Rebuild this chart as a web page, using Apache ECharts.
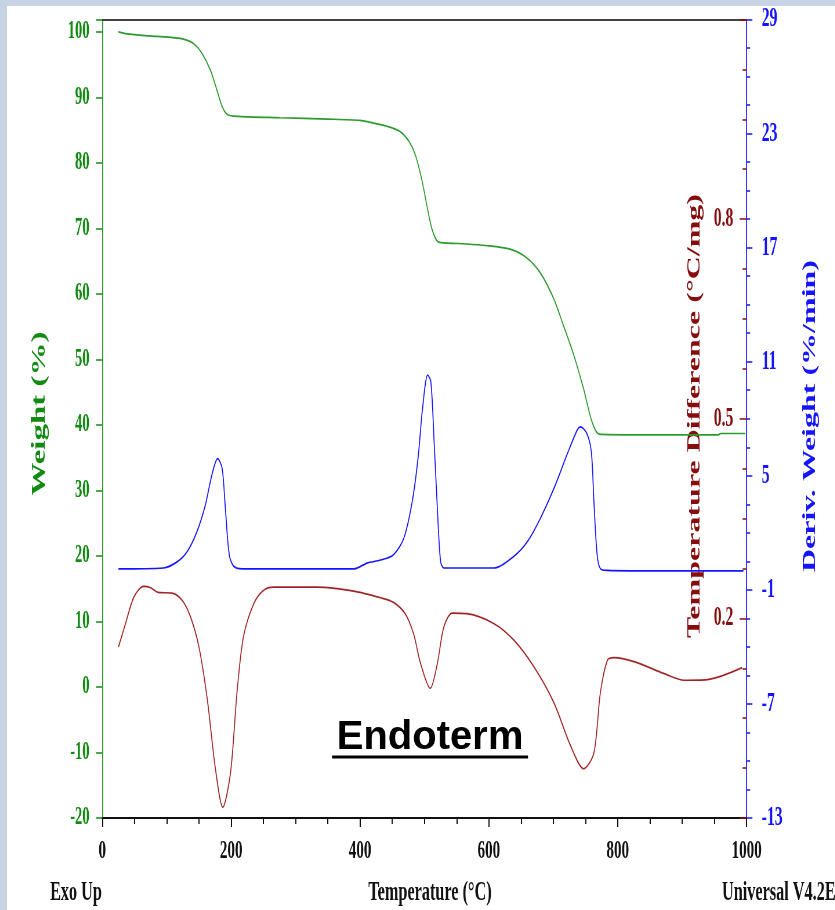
<!DOCTYPE html>
<html>
<head>
<meta charset="utf-8">
<title>TGA / DTA</title>
<script src="https://cdn.jsdelivr.net/npm/echarts@6/dist/echarts.min.js"></script>
<style>
    html, body { margin: 0; padding: 0; overflow: hidden; background: #c6d3e3; width: 835px; height: 910px; }
    #wrap { position: absolute; left: 7px; top: 6px; width: 828px; height: 904px; overflow: hidden; background: #fff; }
    /* the original print is squeezed sideways, so the chart is drawn wide and scaled back */
    #chart { position: absolute; left: 0; top: 0; width: 1428px; height: 904px; transform: scaleX(0.58); transform-origin: 0 0; }
</style>
</head>
<body>
<div id="wrap"><div id="chart"></div></div>
<script>

// weight (%) vs temperature
var weightT = [25, 38, 72, 103, 126, 142, 155, 168, 178, 186, 194, 212, 276, 350, 400, 416, 442, 462, 476, 486, 496, 504, 512, 522, 553, 595, 634, 659, 680, 701, 716, 732, 747, 760, 771, 820, 956, 960, 998];
var weight  = [100, 99.7, 99.4, 99.2, 98.9, 98.2, 96.7, 94.1, 91.1, 88.6, 87.4, 87.1, 86.9, 86.7, 86.5, 86.2, 85.6, 84.8, 83.3, 81.2, 77.4, 73.4, 69.8, 67.9, 67.7, 67.4, 66.8, 65.5, 63.2, 59.2, 55.1, 50.6, 45.5, 40.5, 38.6, 38.5, 38.5, 38.7, 38.7];

// deriv. weight (%/min)
var derivT = [25, 95, 116, 132, 147, 160, 170, 179, 186, 191, 197, 204, 217, 390, 411, 432, 452, 468, 481, 490, 497, 505, 510, 515, 520, 525, 530, 608, 639, 660, 680, 701, 721, 737, 742, 752, 759, 763, 768, 773, 784, 820, 995];
var deriv  = [0.1, 0.15, 0.47, 1.03, 2.07, 3.47, 5.04, 5.9, 5.39, 3.29, 0.85, 0.24, 0.1, 0.1, 0.41, 0.57, 0.85, 1.72, 3.64, 5.91, 8.53, 10.3, 9.93, 6.79, 3.29, 0.5, 0.15, 0.15, 0.77, 1.55, 2.77, 4.34, 6.09, 7.4, 7.57, 7.22, 6.26, 3.64, 0.85, 0.12, 0.02, 0.0, 0.0];

// temperature difference (°C/mg)
var tdT = [25, 36, 49, 64, 75, 87, 108, 124, 137, 150, 163, 175, 187, 199, 209, 219, 235, 250, 266, 333, 390, 432, 452, 470, 483, 494, 509, 520, 530, 543, 566, 608, 639, 670, 701, 727, 747, 763, 773, 784, 794, 825, 872, 903, 939, 993];
var td  = [0.157, 0.192, 0.232, 0.248, 0.246, 0.239, 0.238, 0.227, 0.202, 0.157, 0.078, -0.022, -0.084, -0.032, 0.088, 0.172, 0.222, 0.242, 0.247, 0.247, 0.241, 0.231, 0.224, 0.207, 0.177, 0.132, 0.095, 0.132, 0.187, 0.208, 0.207, 0.192, 0.167, 0.127, 0.073, 0.008, -0.026, -0.002, 0.088, 0.137, 0.141, 0.135, 0.117, 0.107, 0.108, 0.126];

// tick labels shown on the temperature difference axis
var tdLabels = ['0.2', '0.5', '0.8'];

function pairs(xs, ys) {
    return xs.map(function (x, i) { return [x, ys[i]]; });
}

var SQ = 0.58;              // horizontal squeeze of the page
function X(px) { return (px - 7) / SQ; }
function Y(py) { return py - 6; }

var SERIF = '"Liberation Serif", "Times New Roman", serif';
var GREEN = '#128a12';
var GREEN_LINE = '#2c9a2c';
var BLUE = '#1414ff';
var RED = '#860d0d';
var RED_LINE = '#a02424';

var chart = echarts.init(document.getElementById('chart'));

var option = {
    animation: false,
    backgroundColor: '#fff',
    grid: {
        left: X(102.3),
        top: Y(15.7),
        width: (746.6 - 102.3) / SQ,
        height: 818 - 15.7
    },
    xAxis: [
        {
            type: 'value',
            position: 'bottom',
            min: 0,
            max: 1000,
            interval: 200,
            axisLine: { show: true, onZero: false, lineStyle: { color: '#111', width: 2 } },
            axisTick: { show: true, length: 9, lineStyle: { color: '#111', width: 2 } },
            minorTick: { show: true, splitNumber: 4, length: 6, lineStyle: { color: '#111', width: 2 } },
            axisLabel: {
                color: '#111', fontFamily: SERIF, fontWeight: 'bold', fontSize: 26, margin: 20,
                formatter: function (v) { return String(v); }
            },
            splitLine: { show: false }
        },
        {
            // top frame line
            type: 'value',
            position: 'top',
            min: 0,
            max: 1000,
            axisLine: { show: true, onZero: false, lineStyle: { color: '#444', width: 2 } },
            axisTick: { show: false },
            axisLabel: { show: false },
            splitLine: { show: false }
        }
    ],
    yAxis: [
        {
            type: 'value',
            position: 'left',
            min: -20,
            max: 101.9,
            interval: 10,
            axisLine: { show: true, onZero: false, lineStyle: { color: GREEN, width: 1.7 } },
            axisTick: { show: true, length: 11, lineStyle: { color: GREEN, width: 1.5 } },
            axisLabel: {
                color: GREEN, fontFamily: SERIF, fontWeight: 'bold', fontSize: 25, margin: 22,
                padding: [8, 0, 0, 0],
                formatter: function (v) { return v % 10 === 0 ? String(v) : ''; }
            },
            splitLine: { show: false }
        },
        {
            type: 'value',
            position: 'right',
            min: -13,
            max: 29,
            interval: 6,
            axisLine: { show: true, onZero: false, lineStyle: { color: BLUE, width: 1.7 } },
            axisTick: { show: true, length: 10, lineStyle: { color: BLUE, width: 1.5 } },
            minorTick: { show: true, splitNumber: 4, length: 6, lineStyle: { color: BLUE, width: 1.5 } },
            axisLabel: { color: BLUE, fontFamily: SERIF, fontWeight: 'bold', fontSize: 27, margin: 26 },
            splitLine: { show: false }
        },
        {
            type: 'value',
            position: 'right',
            offset: 0,
            min: -0.1,
            max: 1.1,
            interval: 0.3,
            axisLine: { show: false, onZero: false },
            axisTick: { show: true, inside: true, length: 12, lineStyle: { color: RED, width: 1.5 } },
            minorTick: { show: true, splitNumber: 4, length: 7, lineStyle: { color: RED, width: 1.5 } },
            axisLabel: {
                inside: true, color: RED, fontFamily: SERIF, fontWeight: 'bold', fontSize: 27, margin: 23,
                formatter: function (v) {
                    var s = v.toFixed(1);
                    return tdLabels.indexOf(s) >= 0 ? s : '';
                }
            },
            splitLine: { show: false }
        }
    ],
    series: [
        {
            name: 'Weight',
            type: 'line',
            xAxisIndex: 0,
            yAxisIndex: 0,
            showSymbol: false,
            smooth: 0.3,
            lineStyle: { color: GREEN_LINE, width: 1.7 },
            data: pairs(weightT, weight)
        },
        {
            name: 'Deriv. Weight',
            type: 'line',
            xAxisIndex: 0,
            yAxisIndex: 1,
            showSymbol: false,
            smooth: 0.3,
            lineStyle: { color: BLUE, width: 1.7 },
            data: pairs(derivT, deriv)
        },
        {
            name: 'Temperature Difference',
            type: 'line',
            xAxisIndex: 0,
            yAxisIndex: 2,
            showSymbol: false,
            smooth: 0.3,
            lineStyle: { color: RED_LINE, width: 1.7 },
            data: pairs(tdT, td)
        }
    ],
    graphic: [
        {
            type: 'text', x: X(40), y: Y(413.5), rotation: Math.PI / 2,
            style: { text: 'Weight (%)', fill: GREEN, fontFamily: SERIF, fontWeight: 'bold', fontSize: 33, align: 'center', verticalAlign: 'middle' }
        },
        {
            type: 'text', x: X(695), y: Y(416), rotation: Math.PI / 2,
            style: { text: 'Temperature Difference (°C/mg)', fill: RED, fontFamily: SERIF, fontWeight: 'bold', fontSize: 32, align: 'center', verticalAlign: 'middle' }
        },
        {
            type: 'text', x: X(810), y: Y(416), rotation: Math.PI / 2,
            style: { text: 'Deriv. Weight (%/min)', fill: BLUE, fontFamily: SERIF, fontWeight: 'bold', fontSize: 32, align: 'center', verticalAlign: 'middle' }
        },
        {
            type: 'text', x: X(50), y: Y(892.5),
            style: { text: 'Exo Up', fill: '#111', fontFamily: SERIF, fontWeight: 'bold', fontSize: 28, align: 'left', verticalAlign: 'middle' }
        },
        {
            type: 'text', x: X(430), y: Y(892.5),
            style: { text: 'Temperature (°C)', fill: '#111', fontFamily: SERIF, fontWeight: 'bold', fontSize: 28, align: 'center', verticalAlign: 'middle' }
        },
        {
            type: 'text', x: X(722), y: Y(892.5),
            style: { text: 'Universal V4.2E', fill: '#111', fontFamily: SERIF, fontWeight: 'bold', fontSize: 28, align: 'left', verticalAlign: 'middle' }
        },
        {
            // annotation, not squeezed
            type: 'text', x: X(430), y: Y(738), scaleX: 1 / SQ, z: 100,
            style: { text: 'Endoterm', fill: '#000', fontFamily: '"Liberation Sans", Arial, sans-serif', fontWeight: 'bold', fontSize: 40, align: 'center', verticalAlign: 'middle' }
        },
        {
            type: 'rect', z: 100,
            shape: { x: X(332), y: Y(755.5), width: (528 - 332) / SQ, height: 3 },
            style: { fill: '#000' }
        }
    ]
};

chart.setOption(option);

</script>
</body>
</html>
